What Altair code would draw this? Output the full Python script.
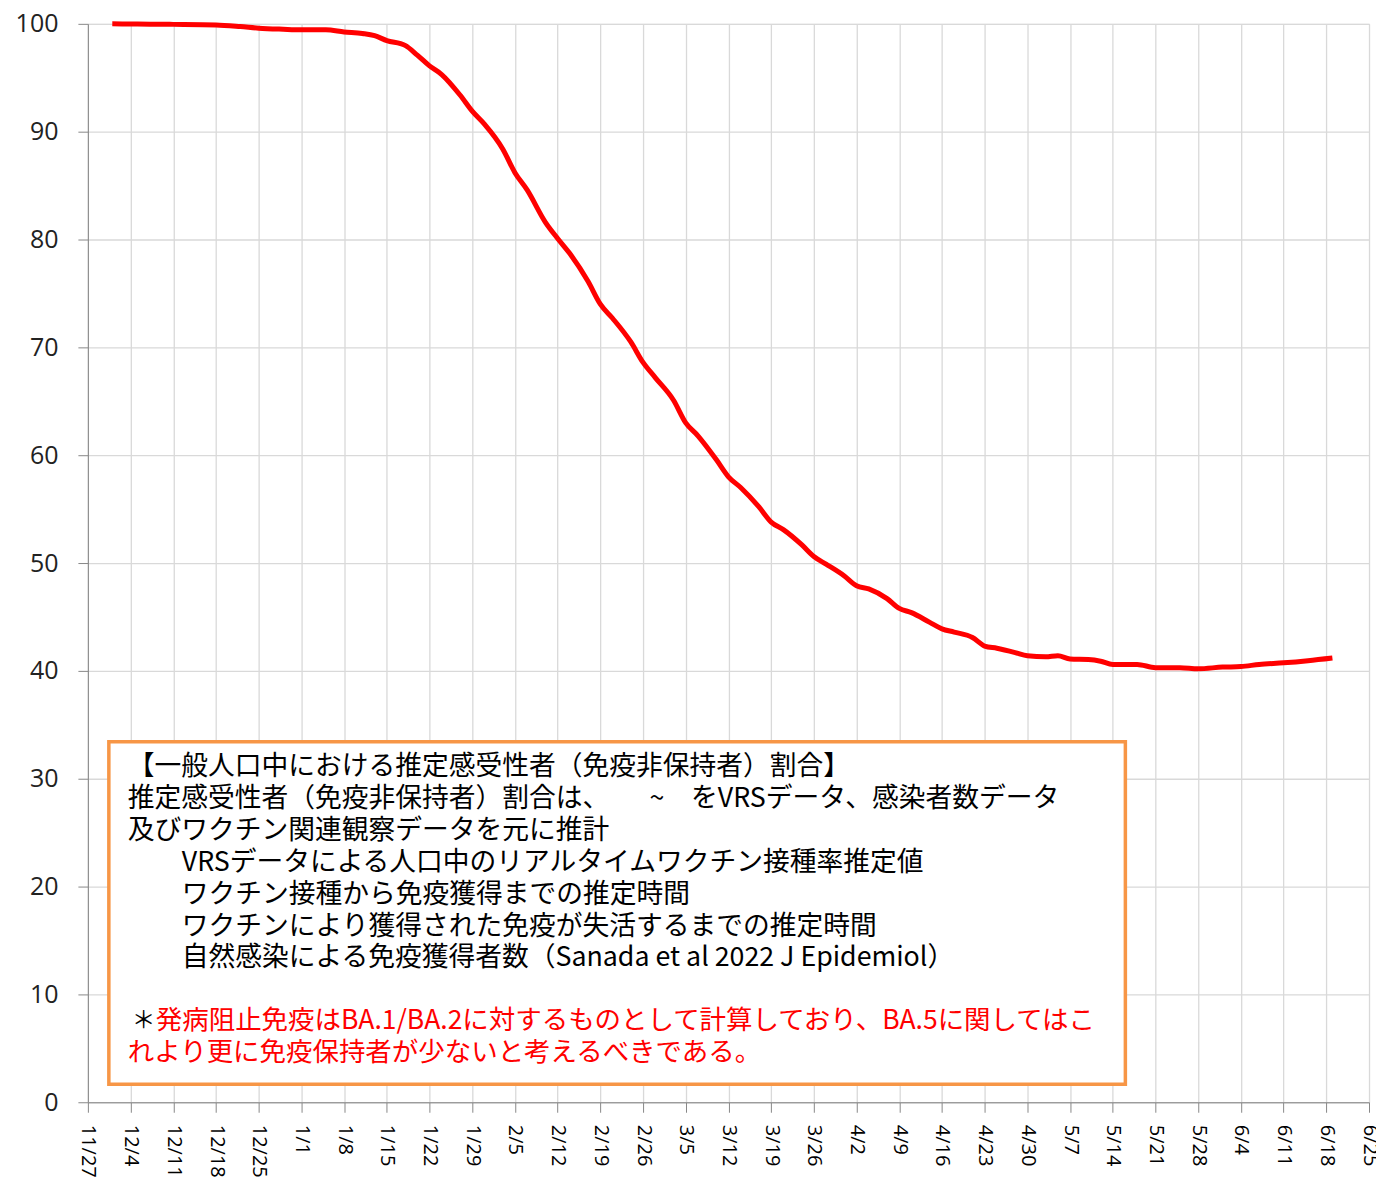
import altair as alt
import pandas as pd

# ---- data ----
dates = [
    "2021-12-01", "2021-12-04", "2021-12-11", "2021-12-18", "2021-12-22", "2021-12-25",
    "2021-12-29", "2022-01-01", "2022-01-05", "2022-01-08", "2022-01-11", "2022-01-13",
    "2022-01-15", "2022-01-18", "2022-01-20", "2022-01-22", "2022-01-24", "2022-01-27",
    "2022-01-29", "2022-01-31", "2022-02-03", "2022-02-05", "2022-02-07", "2022-02-10",
    "2022-02-12", "2022-02-14", "2022-02-17", "2022-02-19", "2022-02-21", "2022-02-24",
    "2022-02-26", "2022-02-28", "2022-03-03", "2022-03-05", "2022-03-07", "2022-03-10",
    "2022-03-12", "2022-03-14", "2022-03-17", "2022-03-19", "2022-03-21", "2022-03-24",
    "2022-03-26", "2022-03-28", "2022-03-31", "2022-04-02", "2022-04-04", "2022-04-07",
    "2022-04-09", "2022-04-11", "2022-04-14", "2022-04-16", "2022-04-18", "2022-04-21",
    "2022-04-23", "2022-04-25", "2022-04-28", "2022-04-30", "2022-05-03", "2022-05-05",
    "2022-05-07", "2022-05-10", "2022-05-12", "2022-05-14", "2022-05-18", "2022-05-21",
    "2022-05-25", "2022-05-28", "2022-06-01", "2022-06-04", "2022-06-07", "2022-06-11",
    "2022-06-15", "2022-06-19",
]
values = [
    100.0, 99.98, 99.95, 99.9, 99.75, 99.6,
    99.5, 99.45, 99.45, 99.25, 99.1, 98.9,
    98.45, 98.0, 97.1, 96.1, 95.3, 93.4,
    91.9, 90.7, 88.4, 86.2, 84.6, 81.6,
    80.1, 78.7, 76.1, 74.0, 72.7, 70.5,
    68.6, 67.2, 65.1, 63.0, 61.8, 59.6,
    58.0, 57.0, 55.2, 53.8, 53.1, 51.7,
    50.6, 49.9, 48.8, 47.9, 47.6, 46.7,
    45.8, 45.4, 44.5, 43.9, 43.6, 43.1,
    42.3, 42.1, 41.7, 41.4, 41.3, 41.4,
    41.1, 41.05, 40.9, 40.6, 40.6, 40.3,
    40.3, 40.2, 40.35, 40.4, 40.6, 40.75,
    40.95, 41.2,
]

# weekly x ticks (11/27 ... 6/25)
tick_dates = [
    (2021, 11, 27), (2021, 12, 4), (2021, 12, 11), (2021, 12, 18), (2021, 12, 25),
    (2022, 1, 1), (2022, 1, 8), (2022, 1, 15), (2022, 1, 22), (2022, 1, 29),
    (2022, 2, 5), (2022, 2, 12), (2022, 2, 19), (2022, 2, 26), (2022, 3, 5),
    (2022, 3, 12), (2022, 3, 19), (2022, 3, 26), (2022, 4, 2), (2022, 4, 9),
    (2022, 4, 16), (2022, 4, 23), (2022, 4, 30), (2022, 5, 7), (2022, 5, 14),
    (2022, 5, 21), (2022, 5, 28), (2022, 6, 4), (2022, 6, 11), (2022, 6, 18),
    (2022, 6, 25),
]
y_ticks = [0, 10, 20, 30, 40, 50, 60, 70, 80, 90, 100]

black_lines = [
    "【一般人口中における推定感受性者（免疫非保持者）割合】",
    "推定感受性者（免疫非保持者）割合は、　　~　をVRSデータ、感染者数データ",
    "及びワクチン関連観察データを元に推計",
]
indent_lines = [
    "VRSデータによる人口中のリアルタイムワクチン接種率推定値",
    "ワクチン接種から免疫獲得までの推定時間",
    "ワクチンにより獲得された免疫が失活するまでの推定時間",
    "自然感染による免疫獲得者数（Sanada et al 2022 J Epidemiol）",
]
asterisk = "＊"
red_lines = [
    "発病阻止免疫はBA.1/BA.2に対するものとして計算しており、BA.5に関してはこ",
    "れより更に免疫保持者が少ないと考えるべきである。",
]

# ---- chart ----
df = pd.DataFrame({"date": [d + "T00:00:00" for d in dates], "value": values})
ticks = [alt.DateTime(year=y, month=m, date=d) for (y, m, d) in tick_dates]

W, H = 1283, 1080
FONT = "Noto Sans CJK JP"
AXFONT = "Open Sans"
FS = 26.8

base = alt.Chart(df)

line = base.mark_line(color="#ff0000", strokeWidth=5, interpolate="monotone").encode(
    x=alt.X(
        "date:T",
        scale=alt.Scale(domain=[ticks[0], ticks[-1]], nice=False),
        axis=alt.Axis(
            values=ticks, format="%-m/%-d", title=None, labelAngle=90,
            labelAlign="left", labelBaseline="middle", labelFontSize=20,
            labelFont=AXFONT, labelColor="#000000", labelPadding=12,
            tickSize=10, tickColor="#888888", domainColor="#888888",
            gridColor="#d9d9d9", gridWidth=1.3, labelOverlap=False,
            labelFlush=False,
        ),
    ),
    y=alt.Y(
        "value:Q",
        scale=alt.Scale(domain=[0, 100], nice=False),
        axis=alt.Axis(
            values=y_ticks, title=None, labelFontSize=25, labelFont=AXFONT,
            labelColor="#222222", labelPadding=20, tickSize=10,
            tickColor="#888888", domainColor="#888888", gridColor="#d9d9d9",
            gridWidth=1.3,
        ),
    ),
)

one = alt.Chart(pd.DataFrame({"k": [0]}))

box = one.mark_rect(fill="white", stroke="#f79646", strokeWidth=3.5).encode(
    x=alt.value(21), x2=alt.value(1039), y=alt.value(719), y2=alt.value(1062)
)

layers = [line, box]
LH = 32
y0 = 744
for i, t in enumerate(black_lines):
    layers.append(one.mark_text(text=t, font=FONT, fontSize=FS, color="#000000",
                                align="left", baseline="middle").encode(
        x=alt.value(40), y=alt.value(y0 + i * LH)))
for i, t in enumerate(indent_lines):
    layers.append(one.mark_text(text=t, font=FONT, fontSize=FS, color="#000000",
                                align="left", baseline="middle").encode(
        x=alt.value(94), y=alt.value(y0 + (3 + i) * LH)))
yr = y0 + 8 * LH - 1
layers.append(one.mark_text(text=asterisk, font=FONT, fontSize=FS - 3, color="#000000",
                            align="left", baseline="middle").encode(
    x=alt.value(44), y=alt.value(yr)))
layers.append(one.mark_text(text=red_lines[0], font=FONT, fontSize=FS - 0.3, color="#ff0000",
                            align="left", baseline="middle").encode(
    x=alt.value(68), y=alt.value(yr)))
layers.append(one.mark_text(text=red_lines[1], font=FONT, fontSize=FS - 0.3, color="#ff0000",
                            align="left", baseline="middle").encode(
    x=alt.value(40), y=alt.value(yr + LH)))

chart = alt.layer(*layers).properties(
    width=W, height=H,
    autosize=alt.AutoSizeParams(type="none"),
    padding={"left": 80, "top": 15, "right": 7, "bottom": 80},
).configure_view(stroke=None).configure(background="white")

chart.save("out.html", embed_options={"renderer": "svg", "actions": False})
